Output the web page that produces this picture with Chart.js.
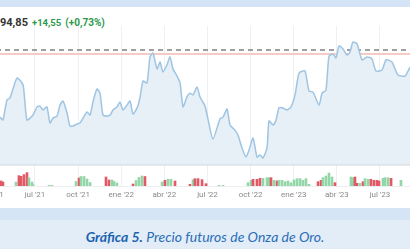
<!DOCTYPE html>
<html>
<head>
<meta charset="utf-8">
<script src="https://cdn.jsdelivr.net/npm/chart.js@4/dist/chart.umd.min.js"></script>
<style>
  html, body { margin: 0; padding: 0; }
  body { width: 410px; height: 249px; overflow: hidden; position: relative; background: #fff; font-family: Roboto, "Open Sans", sans-serif; }
  #topband { position: absolute; left: 0; top: 0; width: 410px; height: 7px; background: #d4e4f6; }
  #head { position: absolute; left: 0; top: 11px; white-space: nowrap; font-weight: 700; }
  #head .px { font-size: 11px; color: #333; }
  #head .ch { font-size: 9.5px; color: #2d9a4b; margin-left: 4px; }
  #wm { position: absolute; left: 0; top: 144px; font-size: 12px; color: #d2d4d8; }
  #chart { position: absolute; left: -40px; top: 26px; }
  #capband { position: absolute; left: 0; top: 208px; width: 410px; height: 41px; background: #e3edf8; border-top: 12px solid #d5e5f6; box-sizing: border-box; }
  #cap { position: absolute; left: 0; top: 228px; width: 410px; text-align: center; font-family: Lato, sans-serif; font-style: italic; font-size: 14px; color: #2a6db5; }
  #cap b { color: #1b62ae; }
</style>
</head>
<body>
<div id="topband"></div>
<div id="head"><span class="px">94,85</span><span class="ch">+14,55</span><span class="ch" style="font-size:10px">(+0,73%)</span></div>
<div id="wm">com</div>
<canvas id="chart" width="490" height="175"></canvas>
<div id="capband"></div>
<div id="cap"><b>Gráfica 5.</b> Precio futuros de Onza de Oro.</div>
<script>
// months counted from ene '21 (0), so jul '21 = 6
const QUARTERS = ['ene', 'abr', 'jul', 'oct'];

const priceMonths = [3.57, 3.77, 4.05, 4.26, 4.75, 5.17, 5.44, 5.86, 6.14, 6.35, 6.56, 6.83, 7.04, 7.25, 7.53, 7.74,
  7.95, 8.23, 8.43, 8.64, 8.92, 9.13, 9.34, 9.62, 9.83, 10.03, 10.31, 10.52, 10.73, 11.01, 11.22, 11.43, 11.70, 11.91,
  12.12, 12.40, 12.61, 12.82, 13.10, 13.30, 13.51, 13.79, 14.00, 14.21, 14.49, 14.70, 14.90, 15.18, 15.39, 15.60,
  15.88, 16.09, 16.30, 16.57, 16.78, 16.99, 17.27, 17.48, 17.83, 18.03, 18.38, 18.87, 19.08, 19.36, 19.57, 19.91,
  20.12, 20.40, 20.68, 20.89, 21.17, 21.44, 21.65, 21.86, 22.14, 22.28, 22.56, 22.77, 22.97, 23.25, 23.53, 23.81,
  24.09, 24.37, 24.78, 25.06, 25.34, 25.76, 25.97, 26.24, 26.45, 26.73, 26.94, 27.15, 27.43, 27.70, 27.91, 28.12,
  28.40, 28.75, 29.10, 29.44, 29.72, 30.14, 30.42, 30.83, 31.25, 31.74, 32.09];
const prices = [1791, 1780, 1858, 1866, 1944, 1917, 1780, 1799, 1831, 1834, 1819, 1831, 1768, 1787, 1795, 1838,
  1854, 1807, 1756, 1756, 1764, 1768, 1787, 1811, 1799, 1850, 1901, 1885, 1799, 1795, 1799, 1819, 1831, 1850,
  1819, 1838, 1854, 1803, 1827, 1866, 1932, 1925, 2027, 2042, 1980, 2007, 1968, 1995, 2027, 1980,
  1952, 1925, 1831, 1870, 1885, 1878, 1909, 1870, 1834, 1784, 1705, 1784, 1791, 1823, 1760, 1740,
  1721, 1670, 1635, 1662, 1709, 1635, 1642, 1631, 1670, 1776, 1760, 1780, 1827, 1827, 1819, 1831,
  1878, 1964, 1972, 1893, 1889, 1838, 1885, 1897, 2030, 2038, 2023, 2070, 2058, 2034, 2046, 2085,
  2078, 2015, 2027, 2019, 1972, 1976, 2015, 2007, 1956, 1952, 1987];

const volMonths = [3.64, 3.77, 4.68, 4.88, 5.03, 5.23, 5.44, 5.58, 5.79, 5.86, 6.98, 7.18,
  8.85, 9.06, 9.20, 9.41, 9.62, 9.83, 10.94, 11.15, 11.36, 11.50, 11.70,
  12.82, 13.03, 13.23, 13.44, 13.65, 14.84, 15.04, 15.25, 15.46, 15.74,
  16.78, 16.99, 17.13, 17.34, 17.62, 17.90, 18.80, 19.08,
  20.82, 21.03, 21.17, 21.44, 21.65, 21.86, 22.14, 22.28,
  22.42, 22.63, 22.84, 22.97, 23.18, 23.39, 23.60, 23.81, 24.02, 24.23, 24.44, 24.64, 24.85, 25.06,
  25.69, 25.90, 26.03, 26.24, 26.45, 26.66, 26.87,
  27.98, 28.12, 28.26, 28.40, 28.61, 28.82, 28.96, 29.17, 29.37, 29.58, 29.79, 29.93, 30.21, 30.35, 30.56, 30.77, 31.46];
const volumes = [150, 120, 120, 310, 290, 340, 400, 250, 120, 40, 20, 20,
  135, 240, 285, 285, 210, 105, 270, 180, 180, 135, 90,
  60, 165, 255, 300, 285, 120, 170, 200, 200, 150,
  50, 190, 220, 220, 190, 70, 20, 20,
  100, 170, 200, 200, 230, 230, 250, 250,
  250, 170, 150, 170, 170, 130, 150, 100, 180, 220, 220, 170, 220, 50,
  130, 170, 250, 300, 390, 270, 100,
  270, 250, 270, 80, 80, 130, 220, 200, 200, 170, 170, 150, 230, 250, 250, 230, 170];
const volUp = [0, 0, 1, 0, 0, 0, 0, 1, 1, 1, 1, 1,
  1, 0, 1, 1, 1, 1, 0, 0, 1, 1, 1,
  0, 1, 1, 1, 0, 1, 0, 1, 1, 0,
  0, 1, 0, 0, 0, 0, 1, 1,
  1, 1, 0, 0, 0, 1, 1, 1,
  0, 1, 0, 1, 1, 1, 1, 1, 1, 1, 1, 1, 1, 1,
  0, 0, 1, 1, 1, 1, 0,
  1, 1, 0, 0, 1, 0, 1, 1, 0, 0, 0, 0, 1, 1, 1, 0, 1];

const PREV_CLOSE = 2054;
const LAST_LEVEL = 2038;
const AREA_BASE = 1603;
const X_MIN = 0.7826, X_MAX = 34.87;

const flat = (v) => [{ x: X_MIN, y: v }, { x: X_MAX, y: v }];

new Chart(document.getElementById('chart'), {
  data: {
    datasets: [
      {
        type: 'line',
        data: priceMonths.map((m, i) => ({ x: m, y: prices[i] })),
        borderColor: '#9fc5e2',
        borderWidth: 1.5,
        backgroundColor: '#e7eff7',
        fill: { value: AREA_BASE },
        pointRadius: 0,
        tension: 0.2,
        order: 1
      },
      { type: 'line', data: flat(LAST_LEVEL), borderColor: '#f6cbc6', borderWidth: 2, pointRadius: 0, order: 3 },
      { type: 'line', data: flat(PREV_CLOSE), borderColor: '#808080', borderWidth: 1.3, borderDash: [5, 4], pointRadius: 0, order: 2 },
      { type: 'line', data: flat(AREA_BASE), borderColor: '#d3d8de', borderWidth: 1, pointRadius: 0, order: 0 },
      {
        type: 'bar',
        yAxisID: 'y2',
        data: volMonths.map((m, i) => ({ x: m, y: volumes[i] })),
        backgroundColor: volUp.map(u => u ? '#93d6a8' : '#e25864'),
        barThickness: 2,
        grouped: false
      }
    ]
  },
  options: {
    responsive: false,
    animation: false,
    devicePixelRatio: 1,
    layout: { padding: 0, autoPadding: false },
    plugins: { legend: { display: false }, tooltip: { enabled: false } },
    scales: {
      x: {
        type: 'linear',
        offset: false,
        min: X_MIN,
        max: X_MAX,
        afterFit: (scale) => { scale.height = 15; },
        grid: { color: '#eef1f4', drawTicks: false, offset: false },
        border: { display: true, color: '#eceef1' },
        ticks: {
          stepSize: 3,
          includeBounds: false,
          autoSkip: false,
          maxRotation: 0,
          padding: 4,
          color: '#8a8a8a',
          font: { family: 'Roboto', size: 8 },
          callback: (v) => {
            if (v % 3 !== 0) return '';
            const yr = 21 + Math.floor(v / 12);
            return QUARTERS[(v % 12) / 3] + " '" + yr;
          }
        }
      },
      y: { display: false, min: 1520.9, max: 2148.1 },
      y2: { display: false, min: 0, max: 4800 }
    }
  }
});
</script>
</body>
</html>
